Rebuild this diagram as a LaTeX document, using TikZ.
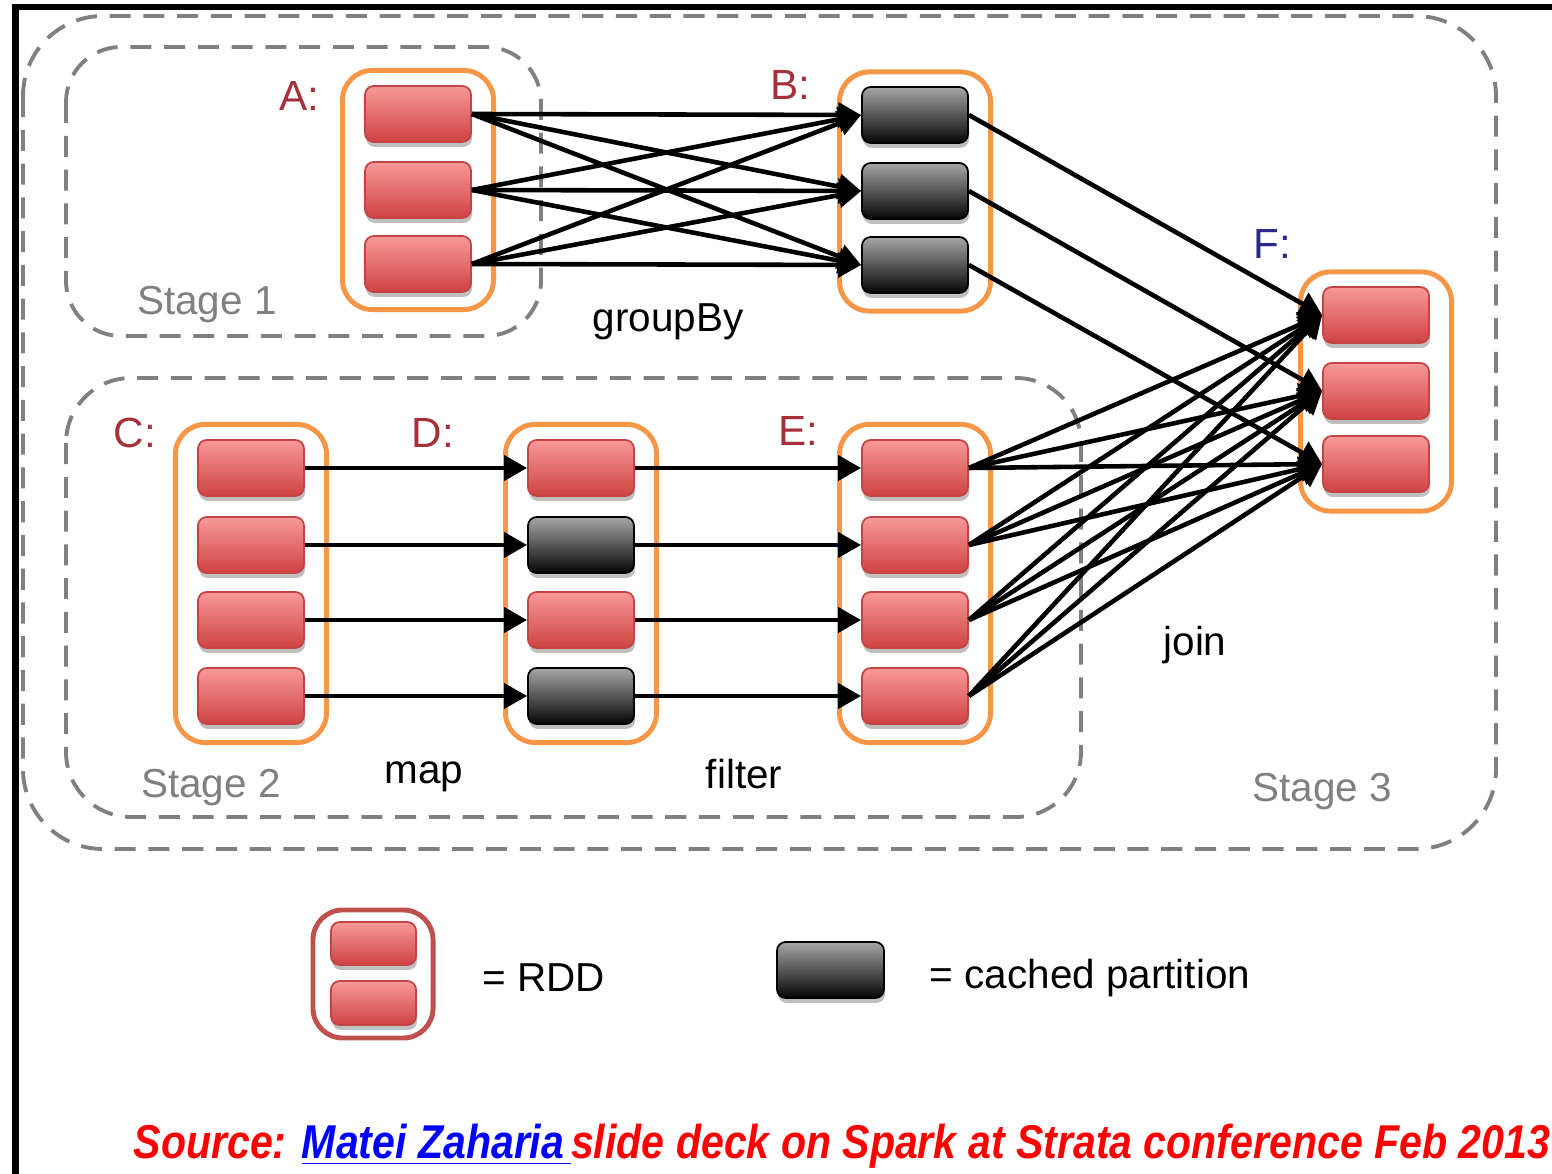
\documentclass[tikz,border=0pt]{standalone}
\usepackage{fontspec}
\setmainfont{Liberation Sans}
\usetikzlibrary{arrows.meta, shadows}
\definecolor{PartTop}{HTML}{F79A98}
\definecolor{PartBot}{HTML}{CF4242}
\definecolor{PartLine}{HTML}{C24444}
\definecolor{CacheTop}{HTML}{A6A6A6}
\definecolor{CacheBot}{HTML}{050505}
\definecolor{Frame}{HTML}{F79646}
\definecolor{LegendRed}{HTML}{C0504D}
\definecolor{LabelRed}{HTML}{A6303A}
\definecolor{LabelBlue}{HTML}{2B2A8C}
\definecolor{StageGray}{HTML}{808080}
\tikzset{
    part/.style={rectangle, rounded corners=2.5pt, minimum width=1.06cm, minimum height=0.56cm, draw=PartLine, line width=0.5pt, top color=PartTop, bottom color=PartBot, drop shadow={shadow xshift=0.3pt, shadow yshift=-1.4pt, opacity=0.25, fill=black}},
    cached/.style={part, draw=black, top color=CacheTop, bottom color=CacheBot},
    rddbox/.style={rectangle, rounded corners=8.5pt, draw=Frame, line width=1.4pt, fill=white, minimum width=1.51cm},
    stagebox/.style={draw=StageGray, line width=1.1pt, dash pattern=on 6pt off 3.6pt},
    arrow/.style={-{Triangle[length=6.5pt, width=7pt]}, line width=1.3pt, black},
    rddlabel/.style={text=LabelRed, font=\fontsize{12}{14}\selectfont},
    oplabel/.style={font=\fontsize{11.5}{14}\selectfont},
    stagelabel/.style={text=StageGray, font=\fontsize{11.5}{14}\selectfont},
}

\begin{document}
\begin{tikzpicture}[x=0.01cm, y=-0.01cm]
    \useasboundingbox (0,0) rectangle (1552,1174);

    % page frame
    \draw[line width=1.8pt] (15.5,1174) -- (15.5,7) -- (1552,7);

    % stages
    \draw[stagebox, rounded corners=0.8cm] (23,16) rectangle (1496,849);
    \draw[stagebox, rounded corners=0.55cm] (66,47) rectangle (541,336);
    \draw[stagebox, rounded corners=0.65cm] (66,378) rectangle (1081,817);

    \node[stagelabel] (stage1) at (207,305) {Stage 1};
    \node[stagelabel] (stage2) at (211,788) {Stage 2};
    \node[stagelabel] (stage3) at (1322,792) {Stage 3};

    % RDD frames
    \node[rddbox, minimum height=2.39cm] (A) at (418,190) {};
    \node[rddbox, minimum height=2.39cm] (B) at (915,191.5) {};
    \node[rddbox, minimum height=2.39cm] (F) at (1376,391.5) {};
    \node[rddbox, minimum height=3.18cm] (C) at (251,583.5) {};
    \node[rddbox, minimum height=3.18cm] (D) at (581,583.5) {};
    \node[rddbox, minimum height=3.18cm] (E) at (915,583.5) {};

    \node[rddlabel] (labA) at (299,96) {A:};
    \node[rddlabel] (labB) at (790,85) {B:};
    \node[rddlabel] (labC) at (135,433) {C:};
    \node[rddlabel] (labD) at (433,433) {D:};
    \node[rddlabel] (labE) at (798,431) {E:};
    \node[rddlabel, text=LabelBlue] (labF) at (1272,244) {F:};

    % partitions
    \node[part] (a1) at (418,114) {};
    \node[part] (a2) at (418,190) {};
    \node[part] (a3) at (418,264) {};
    \node[cached] (b1) at (915,115) {};
    \node[cached] (b2) at (915,191) {};
    \node[cached] (b3) at (915,265) {};
    \node[part] (f1) at (1376,315) {};
    \node[part] (f2) at (1376,391) {};
    \node[part] (f3) at (1376,464) {};

    \node[part] (c1) at (251,468) {};
    \node[part] (c2) at (251,545) {};
    \node[part] (c3) at (251,620) {};
    \node[part] (c4) at (251,696) {};
    \node[part] (d1) at (581,468) {};
    \node[cached] (d2) at (581,545) {};
    \node[part] (d3) at (581,620) {};
    \node[cached] (d4) at (581,696) {};
    \node[part] (e1) at (915,468) {};
    \node[part] (e2) at (915,545) {};
    \node[part] (e3) at (915,620) {};
    \node[part] (e4) at (915,696) {};

    % operations
    \node[oplabel] (groupby) at (668,322) {groupBy};
    \node[oplabel] (map) at (424,777) {map};
    \node[oplabel] (filter) at (744,774) {filter};
    \node[oplabel] (join) at (1195,645) {join};

    % groupBy: every A to every B
    \foreach \i in {1,2,3}
        \foreach \j in {1,2,3}
            \draw[arrow] (a\i.east) -- (b\j.west);

    % B into F
    \foreach \i in {1,2,3}
        \draw[arrow] (b\i.east) -- (f\i.west);

    % map and filter
    \foreach \i in {1,...,4} {
        \draw[arrow] (c\i.east) -- (d\i.west);
        \draw[arrow] (d\i.east) -- (e\i.west);
    }

    % join: every E to every F
    \foreach \i in {1,...,4}
        \foreach \j in {1,2,3}
            \draw[arrow] (e\i.east) -- (f\j.west);

    % legend
    \node[rddbox, draw=LegendRed, minimum width=1.20cm, minimum height=1.28cm] (legRDD) at (373,974) {};
    \node[part, minimum width=0.85cm, minimum height=0.43cm] (legP1) at (373.5,943.5) {};
    \node[part, minimum width=0.85cm, minimum height=0.44cm] (legP2) at (373.5,1003) {};
    \node[oplabel] (legRDDtxt) at (544,978) {= RDD};
    \node[oplabel] (legCachetxt) at (1090,978) {= cached partition};
    \node[cached, minimum width=1.07cm] (legCache) at (830.5,970) {};

    % source
    \node[anchor=base west, inner sep=0pt] (src) at (133,1158) {\scalebox{0.865}[1]{\fontsize{13.5}{16}\selectfont\bfseries\itshape\color{red}Source: \textcolor{blue}{\underline{Matei Zaharia\,}}slide deck on Spark at Strata conference Feb 2013}};
\end{tikzpicture}
\end{document}
